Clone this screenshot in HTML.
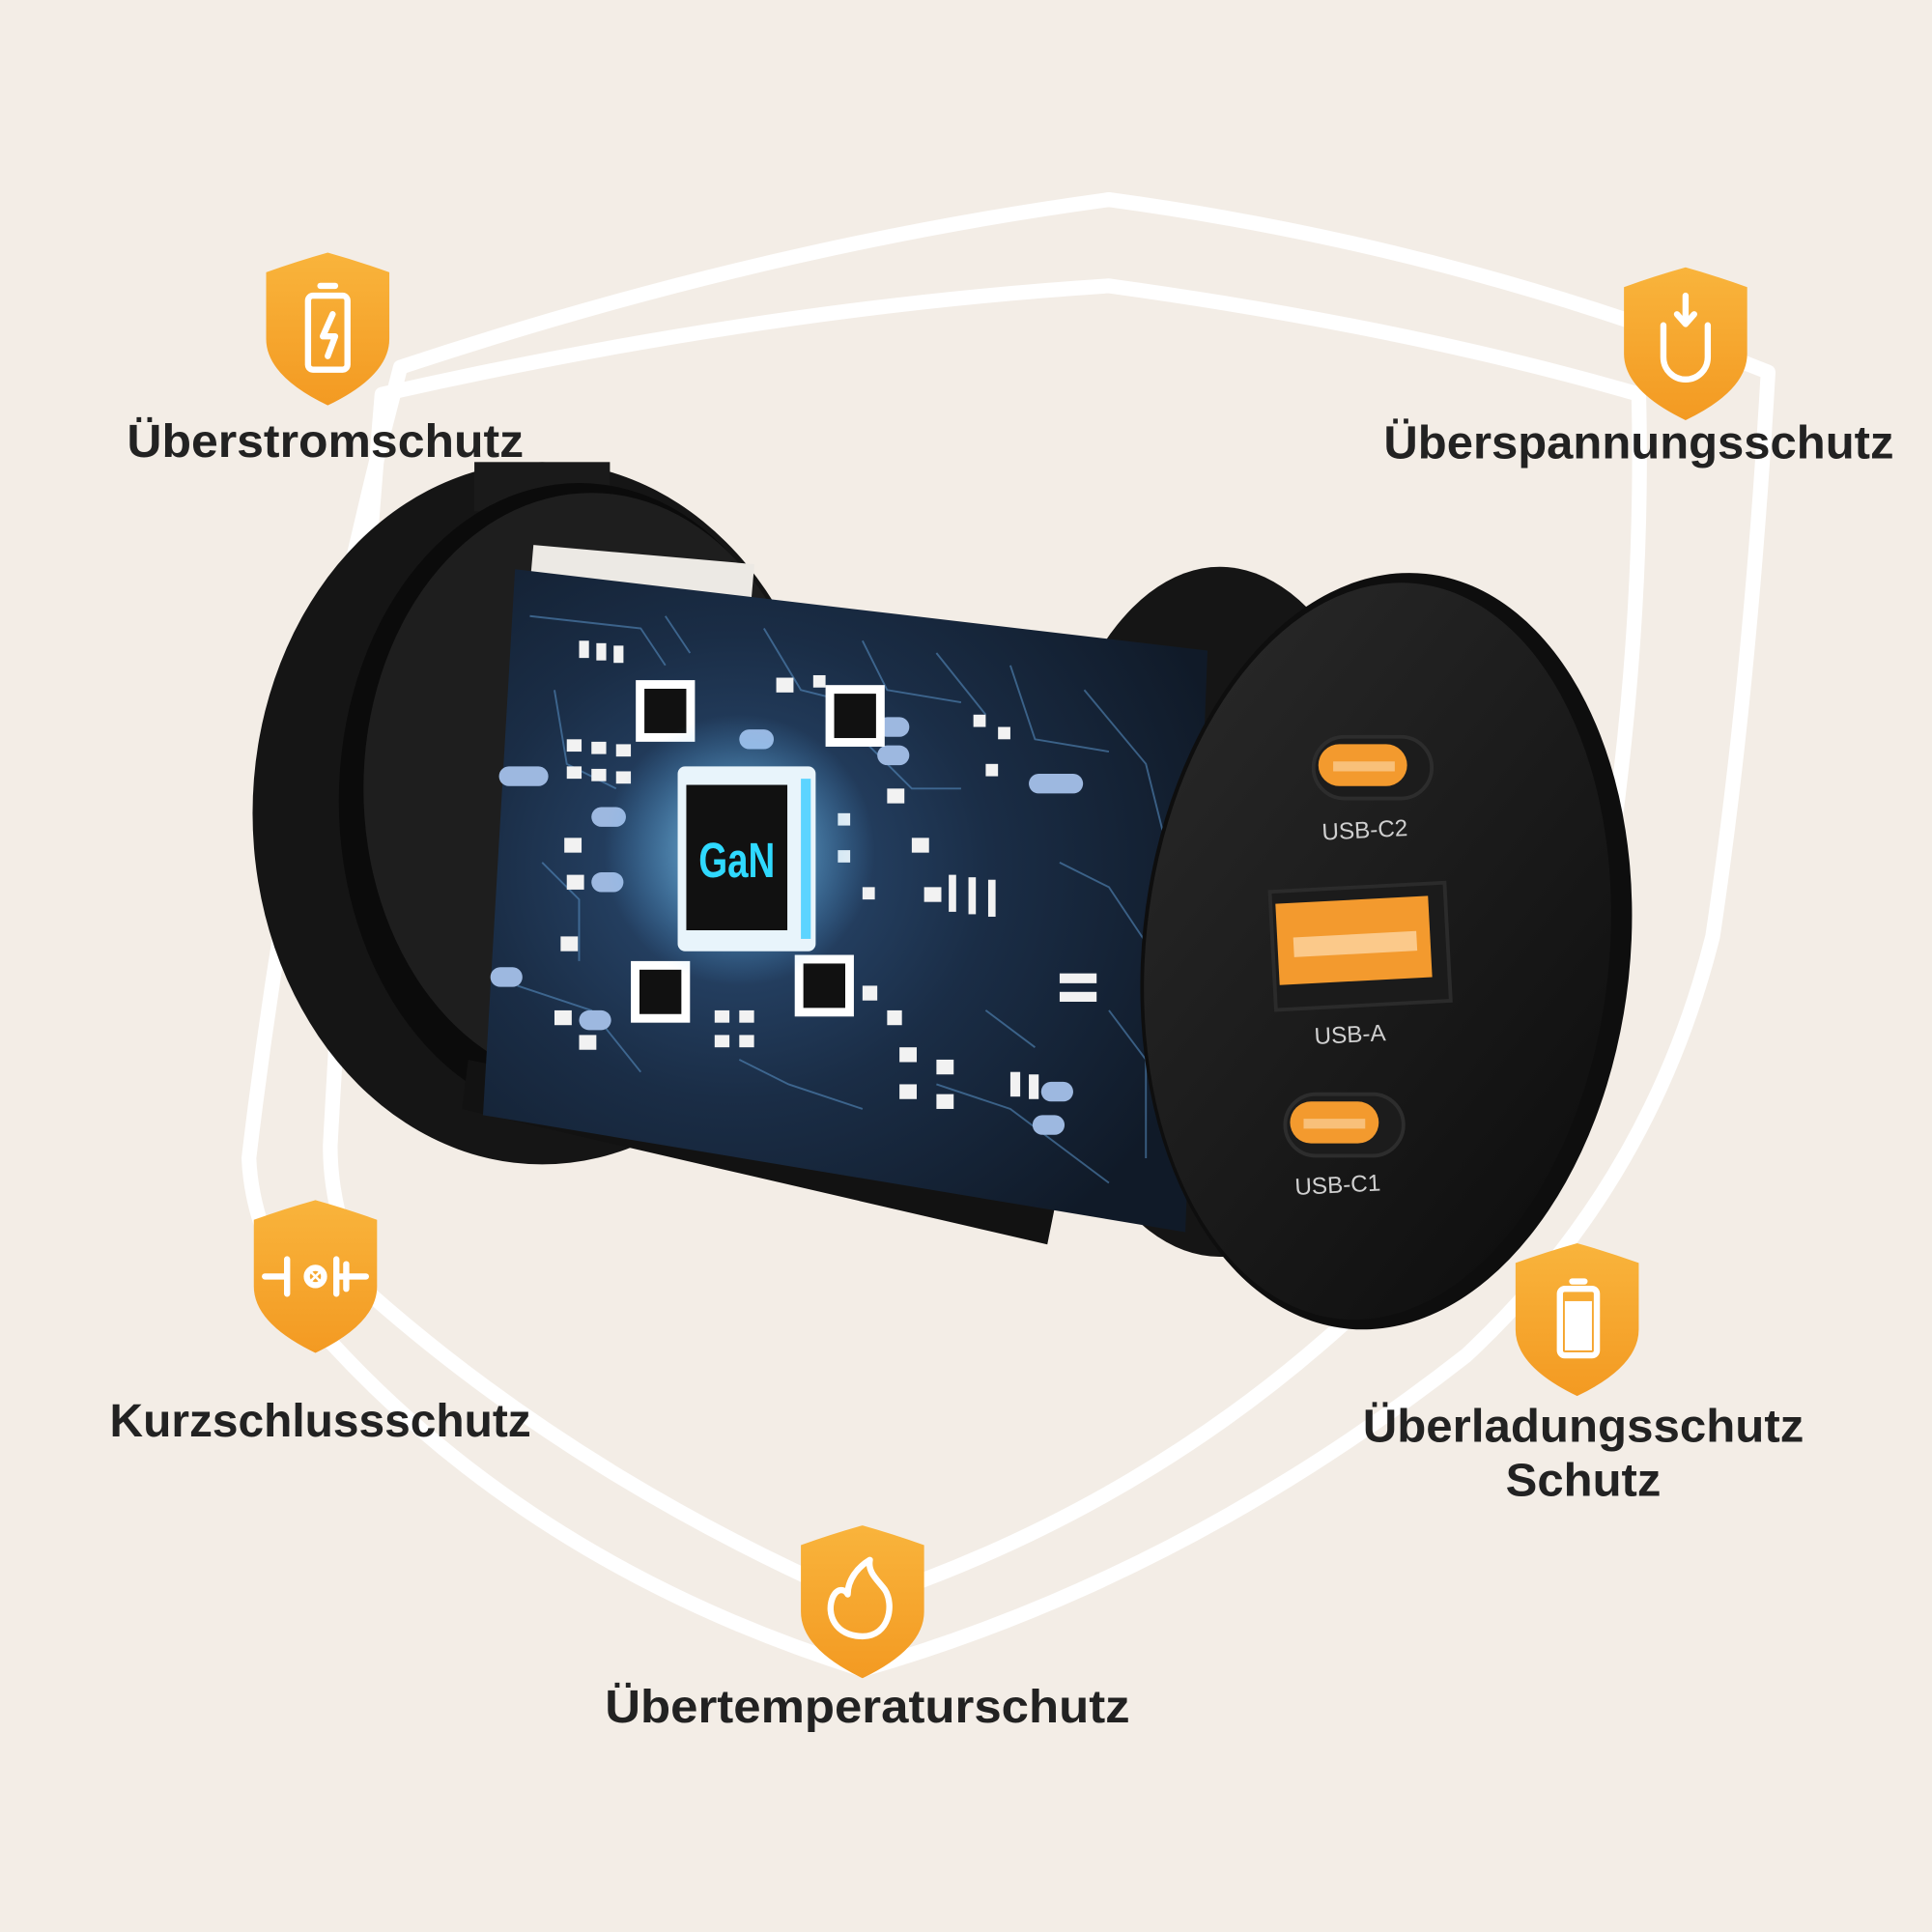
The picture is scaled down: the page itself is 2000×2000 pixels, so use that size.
<!DOCTYPE html>
<html><head><meta charset="utf-8"><style>
html,body{margin:0;padding:0;background:#f3ede6;}
svg{display:block;}
text{font-family:"Liberation Sans",sans-serif;font-weight:bold;fill:#222;}
</style></head><body>
<svg width="2000" height="2000" viewBox="0 0 1568 1568" xmlns="http://www.w3.org/2000/svg">
<defs>
<linearGradient id="org" x1="0" y1="0" x2="0" y2="1"><stop offset="0" stop-color="#f9b43c"/><stop offset="1" stop-color="#f39a22"/></linearGradient>
<radialGradient id="pcb" cx="0.35" cy="0.45" r="0.7"><stop offset="0" stop-color="#2d4f78"/><stop offset="0.5" stop-color="#1a2d46"/><stop offset="1" stop-color="#101a28"/></radialGradient>
<radialGradient id="glow" cx="0.5" cy="0.5" r="0.5"><stop offset="0" stop-color="#9fe8ff" stop-opacity="0.8"/><stop offset="1" stop-color="#5ab8ff" stop-opacity="0"/></radialGradient>
<linearGradient id="disc" x1="0" y1="0" x2="1" y2="1"><stop offset="0" stop-color="#2a2a2a"/><stop offset="1" stop-color="#0c0c0c"/></linearGradient>
<path id="badge" d="M0,-62 Q25,-55 50,-46 L50,8 Q50,38 0,62 Q-50,38 -50,8 L-50,-46 Q-25,-55 0,-62 Z"/>
</defs>
<rect width="1568" height="1568" fill="#f3ede6"/>
<!-- shield outlines -->
<g fill="none" stroke="#ffffff" stroke-width="12" stroke-linejoin="round">
<path d="M325,298 Q620,200 900,162 Q1180,200 1435,302 Q1420,560 1390,760 Q1340,960 1190,1100 Q960,1280 700,1355 Q430,1270 260,1080 Q205,1010 202,940 Q240,620 325,298 Z"/>
<path d="M310,320 Q620,250 900,232 Q1140,265 1330,320 Q1335,520 1300,740 L1200,960 Q1000,1200 700,1300 Q470,1200 300,1050 Q268,990 268,930 Q285,620 310,320 Z"/>
</g>
<!-- left disc -->
<ellipse cx="440" cy="660" rx="235" ry="285" fill="#151515"/>
<rect x="385" y="375" width="110" height="40" fill="#1a1a1a"/>
<ellipse cx="470" cy="650" rx="195" ry="258" fill="#0b0b0b"/>
<ellipse cx="480" cy="640" rx="185" ry="240" fill="#1e1e1e"/>
<rect x="430" y="450" width="180" height="60" fill="#ece9e4" transform="rotate(5 520 480)"/>
<!-- right disc back -->
<ellipse cx="990" cy="740" rx="150" ry="280" fill="#151515"/>
<!-- rails -->
<polygon points="380,860 860,960 850,1010 375,900" fill="#121212"/>
<!-- PCB -->
<polygon points="418,462 980,528 962,1000 392,905" fill="url(#pcb)"/>
<g stroke="#5a93c8" stroke-width="1.5" fill="none" opacity="0.55">
<path d="M430,500 L520,510 L540,540 M450,560 L460,620 L500,640 M700,520 L720,560 L780,570 M820,540 L840,600 L900,610 M860,700 L900,720 L940,780 M420,800 L480,820 L520,870 M600,860 L640,880 L700,900 M760,880 L820,900 L900,960 M880,560 L930,620 L950,700 M540,500 L560,530 M620,510 L650,560 L690,570 M760,530 L800,580"/>
<path d="M440,700 L470,730 L470,780 M900,820 L930,860 L930,940 M700,600 L740,640 L780,640 M800,820 L840,850"/>
</g>
<g fill="#f2f2f2">
<rect x="470" y="520" width="8" height="14"/><rect x="484" y="522" width="8" height="14"/><rect x="498" y="524" width="8" height="14"/>
<rect x="460" y="600" width="12" height="10"/><rect x="480" y="602" width="12" height="10"/><rect x="500" y="604" width="12" height="10"/>
<rect x="460" y="622" width="12" height="10"/><rect x="480" y="624" width="12" height="10"/><rect x="500" y="626" width="12" height="10"/>
<rect x="458" y="680" width="14" height="12"/><rect x="460" y="710" width="14" height="12"/><rect x="455" y="760" width="14" height="12"/>
<rect x="450" y="820" width="14" height="12"/><rect x="470" y="840" width="14" height="12"/>
<rect x="630" y="550" width="14" height="12"/><rect x="660" y="548" width="10" height="10"/>
<rect x="680" y="660" width="10" height="10"/><rect x="680" y="690" width="10" height="10"/><rect x="700" y="720" width="10" height="10"/>
<rect x="720" y="640" width="14" height="12"/><rect x="740" y="680" width="14" height="12"/><rect x="750" y="720" width="14" height="12"/>
<rect x="770" y="710" width="6" height="30"/><rect x="786" y="712" width="6" height="30"/><rect x="802" y="714" width="6" height="30"/>
<rect x="790" y="580" width="10" height="10"/><rect x="810" y="590" width="10" height="10"/><rect x="800" y="620" width="10" height="10"/>
<rect x="860" y="790" width="30" height="8"/><rect x="860" y="805" width="30" height="8"/>
<rect x="580" y="820" width="12" height="10"/><rect x="600" y="820" width="12" height="10"/><rect x="580" y="840" width="12" height="10"/><rect x="600" y="840" width="12" height="10"/>
<rect x="730" y="850" width="14" height="12"/><rect x="760" y="860" width="14" height="12"/><rect x="730" y="880" width="14" height="12"/><rect x="760" y="888" width="14" height="12"/>
<rect x="820" y="870" width="8" height="20"/><rect x="835" y="872" width="8" height="20"/>
<rect x="700" y="800" width="12" height="12"/><rect x="720" y="820" width="12" height="12"/>
</g>
<g fill="#9db8e0">
<rect x="405" y="622" width="40" height="16" rx="8"/><rect x="480" y="655" width="28" height="16" rx="8"/><rect x="480" y="708" width="26" height="16" rx="8"/>
<rect x="398" y="785" width="26" height="16" rx="8"/><rect x="470" y="820" width="26" height="16" rx="8"/>
<rect x="600" y="592" width="28" height="16" rx="8"/><rect x="712" y="582" width="26" height="16" rx="8"/><rect x="712" y="605" width="26" height="16" rx="8"/>
<rect x="835" y="628" width="44" height="16" rx="8"/><rect x="845" y="878" width="26" height="16" rx="8"/><rect x="838" y="905" width="26" height="16" rx="8"/>
</g>
<!-- QFN chips -->
<g>
<rect x="516" y="552" width="48" height="50" fill="#fff"/><rect x="523" y="559" width="34" height="36" fill="#111"/>
<rect x="670" y="556" width="48" height="50" fill="#fff"/><rect x="677" y="563" width="34" height="36" fill="#111"/>
<rect x="512" y="780" width="48" height="50" fill="#fff"/><rect x="519" y="787" width="34" height="36" fill="#111"/>
<rect x="645" y="775" width="48" height="50" fill="#fff"/><rect x="652" y="782" width="34" height="36" fill="#111"/>
</g>
<!-- GaN chip -->
<ellipse cx="600" cy="690" rx="110" ry="110" fill="url(#glow)"/>
<rect x="550" y="622" width="112" height="150" rx="6" fill="#e8f4fb"/>
<rect x="650" y="632" width="8" height="130" fill="#5cd4ff"/>
<rect x="557" y="637" width="82" height="118" fill="#111"/>
<text x="598" y="712" text-anchor="middle" style="fill:#2fd9ff;font-size:40px" textLength="62" lengthAdjust="spacingAndGlyphs">GaN</text>
<!-- right disc front -->
<ellipse cx="1125" cy="772" rx="198" ry="308" fill="#0e0e0e" transform="rotate(6 1125 772)"/>
<ellipse cx="1118" cy="772" rx="188" ry="300" fill="url(#disc)" transform="rotate(6 1118 772)"/>
<!-- ports -->
<rect x="1066" y="598" width="96" height="50" rx="25" fill="#1c1c1c" stroke="#2d2d2d" stroke-width="3"/>
<rect x="1070" y="604" width="72" height="34" rx="17" fill="#f39a2e"/>
<rect x="1082" y="618" width="50" height="8" fill="#f8c07a"/>
<text x="1108" y="680" text-anchor="middle" style="fill:#cfcfcf;font-size:19px;font-weight:normal" transform="rotate(-3 1108 680)">USB-C2</text>
<rect x="1033" y="720" width="142" height="96" fill="#1b1b1b" stroke="#2b2b2b" stroke-width="3" transform="rotate(-3 1104 768)"/>
<rect x="1037" y="730" width="124" height="66" fill="#f39a2e" transform="rotate(-3 1104 768)"/>
<rect x="1050" y="758" width="100" height="16" fill="#fbc98a" transform="rotate(-3 1104 768)"/>
<text x="1096" y="846" text-anchor="middle" style="fill:#cfcfcf;font-size:19px;font-weight:normal" transform="rotate(-3 1096 846)">USB-A</text>
<rect x="1043" y="888" width="96" height="50" rx="25" fill="#1c1c1c" stroke="#2d2d2d" stroke-width="3"/>
<rect x="1047" y="894" width="72" height="34" rx="17" fill="#f39a2e"/>
<rect x="1058" y="908" width="50" height="8" fill="#f8c07a"/>
<text x="1086" y="968" text-anchor="middle" style="fill:#cfcfcf;font-size:19px;font-weight:normal" transform="rotate(-3 1086 968)">USB-C1</text>
<!-- badges -->
<g fill="url(#org)">
<use href="#badge" x="266" y="267"/>
<use href="#badge" x="1368" y="279"/>
<use href="#badge" x="256" y="1036"/>
<use href="#badge" x="1280" y="1071"/>
<use href="#badge" x="700" y="1300"/>
</g>
<g fill="none" stroke="#fff" stroke-width="5" stroke-linecap="round" stroke-linejoin="round">
<rect x="250" y="240" width="32" height="60" rx="4"/><path d="M260,232 h12"/><path d="M270,255 l-8,18 h10 l-6,16"/>
<path d="M1350,264 v26 a18,18 0 0 0 36,0 v-26"/><path d="M1368,240 v22 m-7,-7 l7,8 l7,-8"/>
<path d="M215,1036 h18 m0,-14 v28 m40,-28 v28 m0,-14 h24 m-64,-10 v20 m48,-20 v20"/><circle cx="256" cy="1036" r="7"/><path d="M251,1031 l10,10 m0,-10 l-10,10" stroke-width="2"/>
<rect x="1266" y="1046" width="30" height="54" rx="4"/><path d="M1276,1040 h10"/>
<path d="M700,1328 c-22,0 -30,-18 -24,-32 c4,-8 10,-6 12,-2 c0,-12 8,-22 18,-28 c-2,10 6,16 12,24 c8,12 4,38 -18,38 z"/>
</g>
<rect x="1270" y="1056" width="22" height="40" fill="#fff"/>
<!-- labels -->
<text x="264" y="371" text-anchor="middle" style="font-size:38px" textLength="322" lengthAdjust="spacingAndGlyphs">Überstromschutz</text>
<text x="1330" y="372" text-anchor="middle" style="font-size:38px" textLength="414" lengthAdjust="spacingAndGlyphs">Überspannungsschutz</text>
<text x="260" y="1166" text-anchor="middle" style="font-size:38px" textLength="342" lengthAdjust="spacingAndGlyphs">Kurzschlussschutz</text>
<text x="1285" y="1170" text-anchor="middle" style="font-size:38px" textLength="358" lengthAdjust="spacingAndGlyphs">Überladungsschutz</text>
<text x="1285" y="1214" text-anchor="middle" style="font-size:38px" textLength="126" lengthAdjust="spacingAndGlyphs">Schutz</text>
<text x="704" y="1398" text-anchor="middle" style="font-size:38px" textLength="426" lengthAdjust="spacingAndGlyphs">Übertemperaturschutz</text>
</svg>
</body></html>
